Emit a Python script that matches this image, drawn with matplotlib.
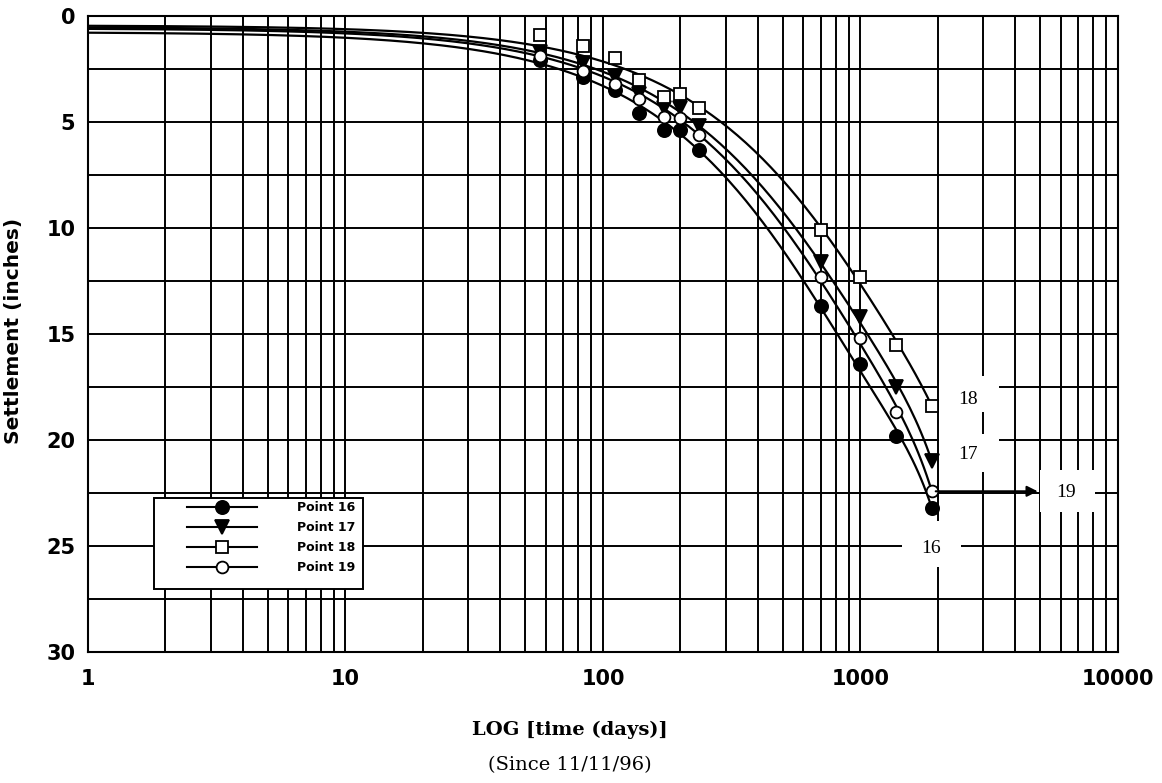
import numpy as np
import matplotlib
matplotlib.use('Agg')
import matplotlib.pyplot as plt
from matplotlib.patches import Rectangle
from matplotlib.lines import Line2D
from matplotlib.ticker import FixedLocator, FixedFormatter, NullFormatter

# ---- data ----
t_days = [57, 84, 111, 138, 172, 200, 235, 700, 1000, 1370, 1900]
p16 = [2.1, 2.9, 3.5, 4.6, 5.4, 5.4, 6.3, 13.7, 16.4, 19.8, 23.2]
p17 = [1.7, 2.2, 2.9, 3.7, 4.35, 4.35, 5.2, 11.6, 14.2, 17.5, 21.0]
p18 = [0.9, 1.4, 2.0, 3.0, 3.8, 3.7, 4.35, 10.1, 12.3, 15.5, 18.4]
p19 = [1.9, 2.6, 3.2, 3.9, 4.75, 4.8, 5.6, 12.3, 15.2, 18.7, 22.4]
# where the fitted curves sit at early times
anchor_t = [1, 10]
a16 = [0.8, 1.0]
a17 = [0.55, 0.72]
a18 = [0.5, 0.62]
a19 = [0.6, 0.8]

series_names = ['Point 16', 'Point 17', 'Point 18', 'Point 19']
series_vals = [p16, p17, p18, p19]
series_anchor = [a16, a17, a18, a19]
x_ticks = [1, 10, 100, 1000, 10000]
x_ticklabels = ['1', '10', '100', '1000', '10000']
y_ticks = [0, 5, 10, 15, 20, 25, 30]
end_labels = ['16', '17', '18', '19']

markers = {'Point 16': dict(marker='o', mfc='black', ms=9.5),
           'Point 17': dict(marker='v', mfc='black', ms=9.5),
           'Point 18': dict(marker='s', mfc='white', ms=9),
           'Point 19': dict(marker='o', mfc='white', ms=8.5)}

fig = plt.figure(figsize=(11.62, 7.83), dpi=100)
ax = fig.add_axes([0.0757, 0.1673, 0.8864, 0.8123])
ax.set_xscale('log')
ax.set_xlim(1, 10000)
ax.set_ylim(30, 0)

# grid
ax.xaxis.set_minor_locator(FixedLocator([m * 10 ** d for d in range(4) for m in range(2, 10)]))
ax.xaxis.set_minor_formatter(NullFormatter())
ax.xaxis.set_major_locator(FixedLocator(x_ticks))
ax.xaxis.set_major_formatter(FixedFormatter(x_ticklabels))
ax.yaxis.set_major_locator(FixedLocator(y_ticks))
ax.yaxis.set_minor_locator(FixedLocator([2.5 + 5 * i for i in range(6)]))
ax.grid(True, which='both', color='black', linewidth=1.4)
ax.set_axisbelow(True)
for s in ax.spines.values():
    s.set_linewidth(1.5)
ax.tick_params(which='both', length=0)
ax.tick_params(axis='x', pad=12)
ax.tick_params(axis='y', pad=9)
for lab in ax.get_xticklabels() + ax.get_yticklabels():
    lab.set_fontfamily('DejaVu Sans')
    lab.set_fontweight('bold')
    lab.set_fontsize(15)

ax.set_ylabel('Settlement (inches)', fontfamily='DejaVu Sans', fontweight='bold',
              fontsize=14.5, labelpad=8)
ax.yaxis.set_label_coords(-0.063, 0.505)

# fitted trend curves (weighted least squares in linear time) and points
tt = np.logspace(0, np.log10(t_days[-1]), 300)
for name, vals, anc in zip(series_names, series_vals, series_anchor):
    xs = np.array(anchor_t + t_days, dtype=float)
    ys = np.array(anc + vals, dtype=float)
    w = np.array([4.0] * len(anchor_t) + [1.0] * len(t_days))
    coef = np.polyfit(xs, ys, 3, w=w)
    ax.plot(tt, np.polyval(coef, tt), color='black', lw=1.6, zorder=4)
    m = markers[name]
    ax.plot(t_days, vals, linestyle='none', marker=m['marker'], ms=m['ms'],
            mfc=m['mfc'], mec='black', mew=1.3, zorder=5)

# white label boxes on the right
boxes = [((2018, 3460), (17.0, 18.7)), ((2018, 3460), (19.7, 21.5)),
         ((4960, 8130), (21.4, 23.4)), ((1446, 2457), (23.8, 26.0))]
for (x0, x1), (y0, y1) in boxes:
    ax.add_patch(Rectangle((x0, y0), x1 - x0, y1 - y0, facecolor='white',
                           edgecolor='none', zorder=3))
label_pos = {'18': (2617, 18.07), '17': (2617, 20.7), '19': (6270, 22.5), '16': (1877, 25.1)}
for lab in end_labels:
    x, y = label_pos[lab]
    ax.text(x, y, lab, fontfamily='Liberation Serif', fontsize=14,
            ha='center', va='center', zorder=6)
ax.annotate('', xy=(4880, 22.42), xytext=(1960, 22.42),
            arrowprops=dict(arrowstyle='-|>', color='black', lw=1.5,
                            mutation_scale=16, shrinkA=0, shrinkB=0), zorder=6)

# legend with frame
ax.add_patch(Rectangle((0.064, 0.099), 0.203, 0.143, transform=ax.transAxes,
                       facecolor='white', edgecolor='black', lw=1.4, zorder=6))
handles = []
for name in series_names:
    m = markers[name]
    handles.append(Line2D([], [], color='black', lw=1.5, marker=m['marker'],
                          ms=m['ms'], mfc=m['mfc'], mec='black', mew=1.3))
leg = ax.legend(handles, series_names, loc='upper left',
                bbox_to_anchor=(0.096, 0.237), frameon=False,
                prop=dict(family='DejaVu Sans', weight='bold', size=9),
                handlelength=5.6, handletextpad=3.2, labelspacing=0.55,
                borderpad=0, borderaxespad=0)
leg.set_zorder(7)

fig.text(0.4905, 0.0677, 'LOG [time (days)]', fontfamily='DejaVu Serif',
         fontweight='bold', fontsize=14, ha='center', va='center')
fig.text(0.4905, 0.023, '(Since 11/11/96)', fontfamily='DejaVu Serif',
         fontsize=14, ha='center', va='center')

fig.savefig('out.png', dpi=100)
